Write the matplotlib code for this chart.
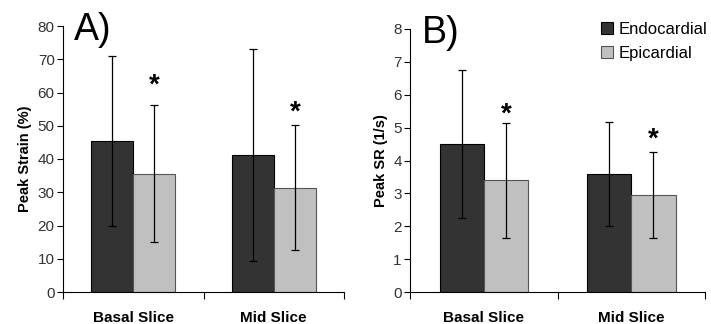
import matplotlib
matplotlib.use("Agg")
import matplotlib.pyplot as plt
import numpy as np

categories = ["Basal Slice", "Mid Slice"]
series = ["Endocardial", "Epicardial"]

strain_endo = [45.4, 41.2]
strain_endo_sd = [25.5, 32.0]
strain_epi = [35.6, 31.4]
strain_epi_sd = [20.7, 18.8]
strain_sig = [62, 54]

sr_endo = [4.5, 3.6]
sr_endo_sd = [2.25, 1.58]
sr_epi = [3.4, 2.95]
sr_epi_sd = [1.75, 1.3]
sr_sig = [5.4, 4.65]

plt.rcParams['font.family'] = ['Liberation Sans', 'DejaVu Sans']

fig = plt.figure(figsize=(7.11, 3.24), dpi=100)
axA = fig.add_axes([63/711, 1-292/324, (344-63)/711, (292-26)/324])
axB = fig.add_axes([410/711, 1-292/324, (705-410)/711, (292-29)/324])

dark = "#333333"
light = "#c0c0c0"
w = 0.3

def draw(ax, endo, endo_sd, epi, epi_sd, sig, ymax, step, ylabel, panel):
    x = np.arange(len(categories))
    ax.bar(x - w/2, endo, w, color=dark, edgecolor="black", linewidth=0.8, zorder=2,
           label=series[0])
    ax.bar(x + w/2, epi, w, color=light, edgecolor="#555555", linewidth=0.8, zorder=2,
           label=series[1])
    ax.errorbar(x - w/2, endo, yerr=endo_sd, fmt="none", ecolor="black", elinewidth=0.9,
                capsize=2.7, capthick=0.9, zorder=3)
    ax.errorbar(x + w/2, epi, yerr=epi_sd, fmt="none", ecolor="black", elinewidth=0.9,
                capsize=2.7, capthick=0.9, zorder=3)
    for xi, s in zip(x + w/2, sig):
        ax.text(xi, s, "*", ha="center", va="center", fontsize=20, fontweight="bold")
    ax.set_xlim(-0.5, len(categories) - 0.5)
    ax.set_ylim(0, ymax)
    ax.set_yticks(np.arange(0, ymax + step/2, step))
    ax.tick_params(axis="y", labelsize=11, labelcolor="#333333", direction="out",
                   length=4, width=0.8, pad=2)
    ax.set_xticks(x)
    ax.set_xticklabels(categories, fontsize=11, fontweight="bold")
    ax.tick_params(axis="x", length=0, pad=14)
    ax.set_xticks(np.arange(-0.5, len(categories), 1.0), minor=True)
    ax.tick_params(axis="x", which="minor", length=5, width=0.8, direction="out")
    for s in ["top", "right"]:
        ax.spines[s].set_visible(False)
    for s in ["left", "bottom"]:
        ax.spines[s].set_linewidth(0.8)
    ax.set_ylabel(ylabel, fontsize=10.5, fontweight="bold", labelpad=4)
    ax.text(0.04, 0.985, panel, transform=ax.transAxes, fontsize=27, va="center",
            ha="left")

draw(axA, strain_endo, strain_endo_sd, strain_epi, strain_epi_sd, strain_sig,
     80, 10, "Peak Strain (%)", "A)")
draw(axB, sr_endo, sr_endo_sd, sr_epi, sr_epi_sd, sr_sig,
     8, 1, "Peak SR (1/s)", "B)")

axB.legend(loc="upper right", bbox_to_anchor=(1.06, 1.085), frameon=False, fontsize=12,
           handlelength=0.7, handleheight=0.7, handletextpad=0.35, labelspacing=0.55)

fig.savefig("out.png", dpi=100)
